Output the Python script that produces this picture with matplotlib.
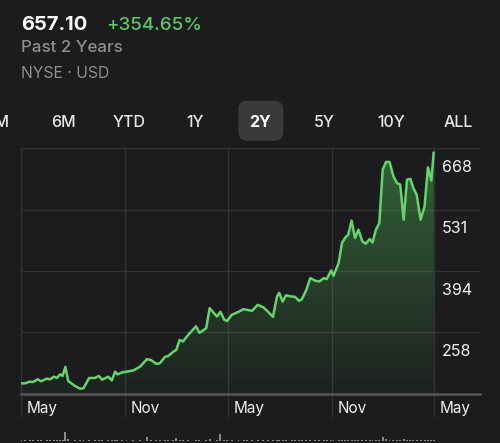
import numpy as np
import pandas as pd
import matplotlib
matplotlib.use("Agg")
import matplotlib.pyplot as plt
import matplotlib.dates as mdates
from matplotlib.patches import FancyBboxPatch
from matplotlib.transforms import IdentityTransform

# ---------------- data ----------------
start_date = "2023-05-01"
days = [0, 8, 16, 22, 30, 36, 46, 52, 59, 64, 70, 74, 79, 84, 96, 105, 111, 121, 131, 138,
        144, 155, 161, 167, 171, 179, 187, 199, 211, 223, 230, 240, 246, 255, 261, 270, 275, 281, 287, 296,
        310, 316, 328, 334, 347, 353, 360, 365, 373, 385, 394, 400, 409, 419, 429, 437, 446, 453, 457, 463,
        469, 479, 485, 492, 497, 505, 512, 521, 528, 536, 541, 549, 553, 562, 568, 574, 579, 585, 591, 597,
        604, 610, 617, 622, 628, 634, 640, 646, 652, 659, 665, 671, 677, 683, 689, 694, 700, 707, 714, 720,
        726, 730]
prices = [144.53, 144.8, 148.4, 147.7, 153.7, 149.3, 155.1, 153.7, 159.5, 156.6, 164.9, 161.1, 181.1, 150.0,
          138.8, 132.8, 133.7, 156.6, 156.6, 161.1, 152.9, 159.5, 151.1, 170.7, 164.4, 168.9, 170.7, 173.3,
          181.8, 198.3, 196.7, 187.8, 189.4, 203.4, 205.6, 215.2, 219.0, 241.3, 237.9, 252.4, 271.4, 256.9,
          267.4, 311.9, 293.2, 303.7, 285.8, 283.6, 297.0, 303.7, 309.7, 308.1, 305.9, 319.3, 313.7, 304.3,
          292.5, 337.1, 346.0, 326.6, 340.4, 337.7, 337.1, 328.2, 331.5, 352.7, 378.7, 372.7, 371.2, 378.7,
          376.5, 395.7, 383.9, 412.1, 456.7, 469.2, 475.2, 506.4, 467.8, 486.3, 460.3, 455.1, 465.6, 458.0,
          486.3, 501.3, 620.0, 637.1, 637.1, 605.0, 590.4, 586.6, 508.6, 597.7, 599.3, 579.2, 564.3, 508.6,
          538.2, 625.1, 595.5, 657.10]
volumes = [1.2, 1.0, 1.1, 1.0, 1.3, 1.0, 1.1, 1.2, 1.0, 1.1,
           1.2, 1.4, 9.5, 1.6, 1.2, 1.0, 1.1, 1.0, 1.2, 1.0,
           1.1, 1.0, 1.2, 1.1, 1.0, 1.1, 1.0, 1.2, 1.3, 4.5,
           1.4, 1.1, 1.0, 1.2, 1.1, 1.0, 3.0, 1.2, 1.1, 1.0,
           1.3, 1.1, 1.2, 1.6, 1.2, 7.0, 1.4, 1.1, 1.0, 1.2,
           1.1, 1.0, 1.2, 1.1, 1.0, 1.1, 1.3, 1.0, 1.1, 1.2,
           1.0, 1.1, 1.0, 1.2, 1.1, 1.0, 1.2, 1.1, 1.0, 1.1,
           1.2, 1.0, 1.1, 1.3, 1.2, 1.1, 1.4, 1.2, 1.1, 1.0,
           1.2, 1.1, 1.0, 1.2, 1.1, 1.3, 4.5, 1.6, 1.2, 1.1,
           1.0, 1.2, 2.0, 1.1, 1.2, 1.0, 1.1, 1.2, 1.0, 1.1,
           1.2, 1.0]
assert len(days) == len(prices) == len(volumes)

y_ticks = [668, 531, 394, 258]
y_min = 121
x_tick_dates = ["2023-05-01", "2023-11-01", "2024-05-01", "2024-11-01", "2025-05-01"]
x_tick_labels = ["May", "Nov", "May", "Nov", "May"]
x_end_date = "2025-07-21"

tabs = ["1M", "6M", "YTD", "1Y", "2Y", "5Y", "10Y", "ALL"]
selected_tab = "2Y"
last_price = "657.10"
change_text = "+354.65%"
period_text = "Past 2 Years"
exchange_text = "NYSE · USD"

# ---------------- style ----------------
BG = "#1c1c1e"
GRID = "#333336"
AXIS = "#56565a"
LINE = "#66d46c"
GREEN_TXT = "#5ac864"
GRAY_TXT = "#8e8e93"
WHITE = "#f2f2f2"
FONT = ["Inter", "DejaVu Sans"]
plt.rcParams["font.family"] = FONT

W, H = 500, 443
fig = plt.figure(figsize=(W / 100, H / 100), dpi=100, facecolor=BG)

def fx(px):
    return px / W

def fy(py):
    return 1 - py / H

dates = pd.Timestamp(start_date) + pd.to_timedelta(days, unit="D")
xnum = mdates.date2num(dates.to_pydatetime())
x0 = mdates.date2num(pd.Timestamp(start_date).to_pydatetime())
x1 = mdates.date2num(pd.Timestamp(x_end_date).to_pydatetime())

# main axes
L, R, T, B = 20.7, 480, 148, 394
ax = fig.add_axes([fx(L), fy(B), fx(R) - fx(L), fy(T) - fy(B)])
ax.set_facecolor(BG)
ax.set_xlim(x0, x1)
ax.set_ylim(y_min, y_ticks[0])
for s in ax.spines.values():
    s.set_visible(False)
ax.set_xticks([])
ax.set_yticks([])

for v in y_ticks:
    ax.axhline(v, color=GRID, lw=1.0, zorder=1)
ax.axhline(y_min, color=AXIS, lw=1.8, zorder=4, clip_on=False)

for d in x_tick_dates:
    ax.axvline(mdates.date2num(pd.Timestamp(d).to_pydatetime()), ymin=-22 / (B - T), ymax=1,
               color=GRID, lw=1.0, zorder=1, clip_on=False)

# gradient fill
poly = ax.fill_between(xnum, prices, y_min, facecolor="none", edgecolor="none")
path = poly.get_paths()[0]
n = 256
grad = np.zeros((n, 1, 4))
grad[:, 0, 0] = 0.33
grad[:, 0, 1] = 0.78
grad[:, 0, 2] = 0.36
grad[:, 0, 3] = np.linspace(0.03, 0.42, n)
im = ax.imshow(grad, extent=[x0, x1, y_min, y_ticks[0]], origin="lower", aspect="auto",
               interpolation="bilinear", zorder=2)
im.set_clip_path(path, transform=ax.transData)

ax.plot(xnum, prices, color=LINE, lw=1.8, zorder=3, solid_joinstyle="round")

# y labels
for v in y_ticks:
    ax.annotate(str(v), xy=((441.7 - L) / (R - L), v), xycoords=("axes fraction", "data"),
                xytext=(0, -23.7), textcoords="offset pixels", ha="left", va="baseline",
                color=WHITE, fontsize=11.5, annotation_clip=False)

# x labels
for d, lab in zip(x_tick_dates, x_tick_labels):
    ax.annotate(lab, xy=(mdates.date2num(pd.Timestamp(d).to_pydatetime()), 0),
                xycoords=("data", "axes fraction"), xytext=(5.5, -(412.7 - B)),
                textcoords="offset pixels", ha="left", va="baseline", color=WHITE,
                fontsize=11, annotation_clip=False)

# volume axes
vax = fig.add_axes([fx(L), fy(441), fx(R) - fx(L), 12 / H])
vax.set_facecolor("none")
vax.set_xlim(x0, x1)
vax.set_ylim(0, 12)
vax.axis("off")
vax.bar(xnum, volumes, width=3.4, color="#8a8a8e", align="center")

# header
fig.text(fx(21), fy(30), last_price, color="white", fontsize=14.5, fontweight="bold", va="baseline")
fig.text(fx(106), fy(30), change_text, color=GREEN_TXT, fontsize=13.5, fontweight="medium", va="baseline")
fig.text(fx(21), fy(51.7), period_text, color=GRAY_TXT, fontsize=12.2, fontweight="medium", va="baseline")
fig.text(fx(21), fy(78.3), exchange_text, color=GRAY_TXT, fontsize=11.3, va="baseline")

# tabs
tab_x = [-1, 63.3, 129.5, 194.8, 260, 324, 390.8, 458]
pill = FancyBboxPatch((238.3, H - 140.7), 45, 40, boxstyle="round,pad=0,rounding_size=9",
                      transform=IdentityTransform(), facecolor="#3a3a3c", edgecolor="none")
fig.add_artist(pill)
for t, x in zip(tabs, tab_x):
    sel = t == selected_tab
    fig.text(fx(x), fy(127.3), t, color="white" if sel else "#e8e8e8", fontsize=11.5,
             fontweight="bold" if sel else "medium", ha="center", va="baseline")

fig.savefig("out.png", dpi=100, facecolor=BG)
